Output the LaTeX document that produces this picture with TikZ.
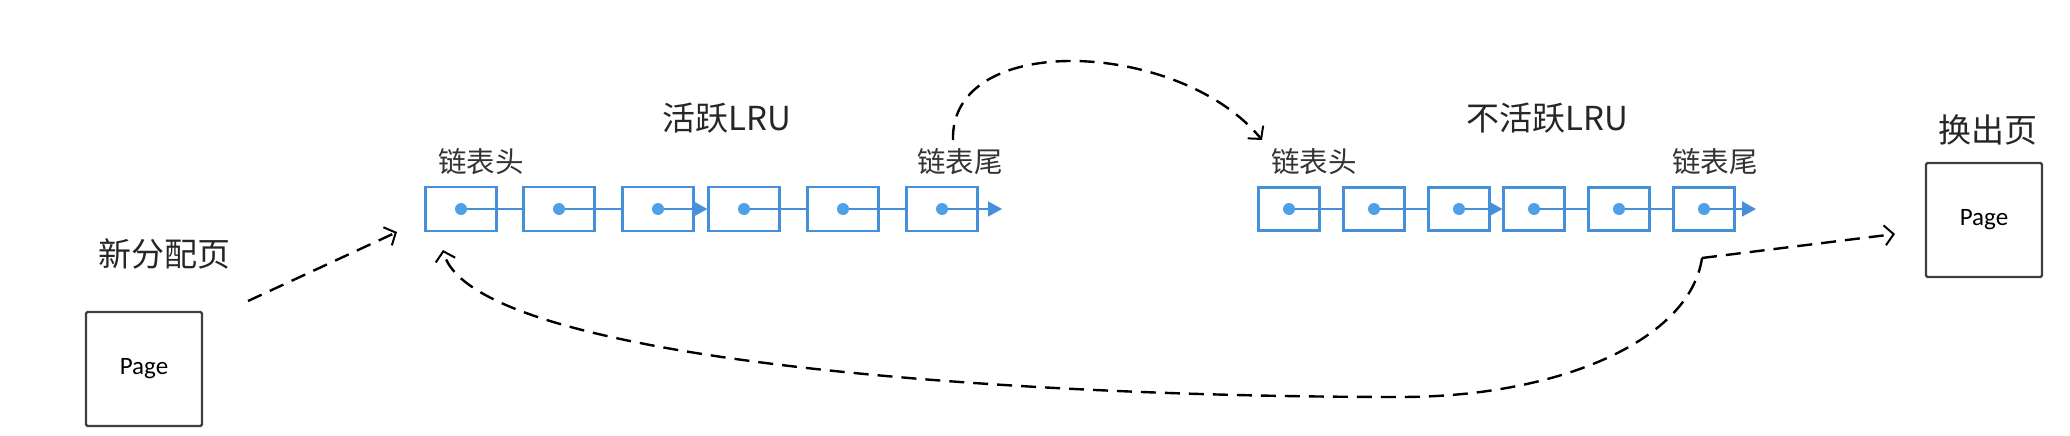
\documentclass[tikz,border=0pt]{standalone}
\usepackage{fontspec}
\setmainfont{Carlito}
\newfontfamily\cjk{Noto Sans CJK SC}
\usetikzlibrary{arrows.meta}

\definecolor{lrublue}{RGB}{70,144,218}
\definecolor{dotblue}{RGB}{78,160,232}

\tikzset{
  lrubox/.style={draw=lrublue, line width=2.2pt, fill=white, minimum width=71pt, minimum height=44pt, inner sep=0pt},
  lrusmall/.style={lrubox, minimum width=61pt, minimum height=43pt},
  link/.style={draw=lrublue, line width=1.6pt},
  pagebox/.style={draw=black!75, line width=2.2pt, rounded corners=1.5pt, minimum width=116pt, minimum height=114pt, inner sep=0pt, font=\fontsize{25}{28}\selectfont},
  title/.style={font=\cjk\fontsize{33}{38}\selectfont, text=black!85},
  endlbl/.style={font=\cjk\fontsize{28.5}{32}\selectfont, text=black!80},
  move/.style={line width=2.4pt, dash pattern=on 15pt off 9pt, -{Straight Barb[length=9pt,width=20pt,line width=2pt]}}
}

\begin{document}
\begin{tikzpicture}[x=1pt, y=-1pt]
  \useasboundingbox (0,0) rectangle (2070,436);

  % 活跃 / 不活跃 链表
  \foreach \i/\x in {1/461,2/559,3/658,4/744,5/843,6/942}
    \node[lrubox] (a\i) at (\x,209) {};
  \foreach \i/\x in {1/1289,2/1374,3/1459,4/1534,5/1619,6/1704}
    \node[lrusmall] (b\i) at (\x,209) {};
  \coordinate (aend) at (1002,209);
  \coordinate (bend) at (1756,209);

  \foreach \l in {a,b}{
    \foreach \i/\j in {1/2,2/3,4/5,5/6}
      \draw[link] (\l\i.center) -- (\l\j.west);
    \draw[link,-{Triangle[length=14pt,width=15pt]}] (\l3.center) -- (\l4.west);
    \draw[link,-{Triangle[length=14pt,width=15pt]}] (\l6.center) -- (\l end);
    \foreach \i in {1,...,6}
      \fill[dotblue] (\l\i) circle (6pt);
  }

  \node[title] (atitle) at (727,118) {活跃LRU};
  \node[title] (btitle) at (1547,118) {不活跃LRU};
  \node[endlbl] (ahead) at (481,162) {链表头};
  \node[endlbl] (atail) at (960,162) {链表尾};
  \node[endlbl] (bhead) at (1314,162) {链表头};
  \node[endlbl] (btail) at (1715,162) {链表尾};

  % 页
  \node[pagebox] (newpage) at (144,369) {Page};
  \node[pagebox] (outpage) at (1984,220) {Page};
  \node[title] (newlbl) at (164,254) {新分配页};
  \node[title] (outlbl) at (1988,130) {换出页};

  \coordinate (newfrom) at (248,301);
  \coordinate (newto) at (397,232);
  \coordinate (arcfrom) at (953,140);
  \coordinate (arcto) at (1262,140);
  \coordinate (split) at (1702,258);
  \coordinate (outto) at (1895,234);
  \coordinate (headin) at (443,250);

  \draw[move] (newfrom) -- (newto);
  \draw[move] (arcfrom) .. controls (950,30) and (1180,40) .. (arcto);
  \draw[move] (split) -- (outto);
  \draw[move] (split) .. controls (1690,340) and (1560,397) .. (1400,397)
    .. controls (1000,397) and (470,360) .. (headin);
\end{tikzpicture}
\end{document}
